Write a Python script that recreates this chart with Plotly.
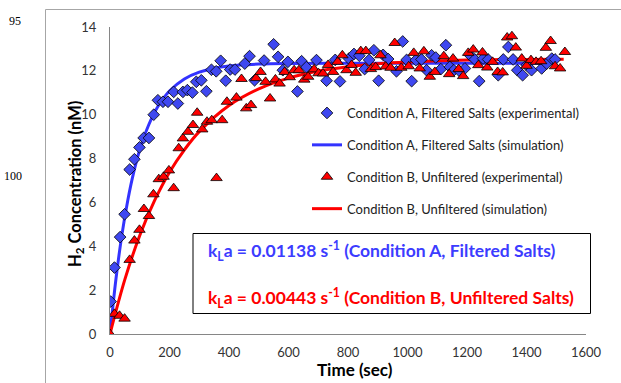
import plotly.graph_objects as go

# ---- data ----
a_time = [2, 15, 34, 49, 66, 82, 99, 113, 131, 147, 161, 178, 195, 214, 228, 245, 260, 277, 290, 307,
          324, 341, 357, 372, 389, 404, 420, 453, 469, 486, 518, 550, 565, 581, 598, 630, 644, 660, 694,
          728, 757, 773, 803, 820, 838, 856, 871, 887, 903, 918, 935, 963, 984, 997, 1014, 1028, 1047,
          1064, 1081, 1095, 1112, 1129, 1142, 1156, 1174, 1193, 1210, 1226, 1241, 1254, 1271, 1305,
          1322, 1339, 1355, 1369, 1387, 1400, 1417, 1451, 1468, 1485, 1496]
a_conc = [1.48, 3.03, 4.42, 5.46, 7.50, 7.97, 8.51, 8.94, 8.94, 10.0, 10.66, 10.59, 10.59, 11.04, 10.51,
          11.04, 11.12, 11.01, 11.5, 11.57, 11.07, 12.05, 11.98, 12.46, 11.55, 12.06, 12.06, 12.33, 12.67,
          11.57, 12.47, 13.21, 12.64, 12.03, 12.41, 11.06, 12.44, 12.17, 12.49, 11.55, 12.50, 11.52, 12.56,
          12.77, 12.69, 12.08, 12.50, 12.94, 11.55, 12.73, 12.54, 11.98, 13.34, 12.5, 11.53, 12.49, 12.52,
          12.03, 12.71, 12.61, 12.08, 13.17, 12.18, 12.03, 12.0, 12.11, 12.71, 12.52, 11.53, 12.56, 12.52,
          11.8, 12.52, 13.09, 12.52, 12.03, 11.8, 12.26, 12.03, 12.11, 12.33, 12.56, 12.52]

b_time = [0, 15, 32, 49, 66, 82, 99, 114, 131, 146, 164, 180, 198, 214, 231, 245, 262, 279, 293, 310,
          326, 342, 358, 377, 393, 425, 442, 458, 474, 491, 506, 523, 538, 556, 570, 587, 604, 619, 635,
          653, 666, 686, 701, 716, 733, 750, 765, 781, 795, 812, 826, 843, 860, 877, 893, 909, 927, 943,
          957, 979, 1004, 1021, 1041, 1055, 1075, 1092, 1122, 1140, 1153, 1172, 1187, 1204, 1221, 1238,
          1252, 1268, 1286, 1303, 1320, 1335, 1351, 1364, 1384, 1400, 1415, 1432, 1449, 1465, 1481,
          1496, 1513, 1529]
b_conc = [0.0, 0.92, 0.83, 0.70, 3.38, 4.26, 4.75, 5.70, 5.38, 6.37, 7.06, 7.17, 7.46, 6.65, 8.47, 8.92,
          9.22, 9.53, 10.09, 9.33, 9.68, 9.75, 7.11, 9.75, 10.59, 10.78, 11.63, 10.29, 10.44, 11.67, 11.95,
          11.50, 10.74, 11.61, 11.42, 11.95, 11.71, 12.03, 12.03, 11.60, 11.73, 12.07, 11.89, 11.88, 12.27,
          11.95, 12.41, 12.71, 12.03, 12.27, 11.91, 12.90, 12.90, 12.08, 12.17, 12.71, 12.20, 12.14, 13.27,
          12.14, 12.21, 12.82, 12.11, 12.89, 11.73, 11.95, 12.67, 11.85, 12.56, 12.08, 11.76, 12.82, 12.97,
          12.26, 12.84, 12.15, 12.41, 11.95, 11.93, 13.52, 13.58, 13.06, 12.56, 12.23, 12.49, 12.41, 12.44,
          13.05, 13.36, 12.21, 12.11, 12.86]

a_sim_time = [0, 20, 40, 60, 80, 100, 130, 160, 200, 250, 300, 350, 400, 500, 600, 800, 1000, 1200, 1500]
a_sim_conc = [0, 2.51, 4.52, 6.11, 7.39, 8.40, 9.53, 10.35, 11.08, 11.63, 11.94, 12.12, 12.22, 12.31,
              12.34, 12.35, 12.35, 12.35, 12.35]

b_sim_time = [0, 50, 100, 150, 200, 250, 300, 400, 500, 600, 700, 800, 900, 1000, 1200, 1400, 1525]
b_sim_conc = [0, 2.49, 4.49, 6.09, 7.38, 8.40, 9.23, 10.42, 11.18, 11.67, 11.99, 12.19, 12.32, 12.40,
              12.49, 12.52, 12.53]

x_ticks = [0, 200, 400, 600, 800, 1000, 1200, 1400, 1600]
y_ticks = [0, 2, 4, 6, 8, 10, 12, 14]

names = ["Condition A, Filtered Salts (experimental)",
         "Condition A, Filtered Salts (simulation)",
         "Condition B, Unfiltered (experimental)",
         "Condition B, Unfiltered (simulation)"]

BLUE_M = "#3f48f0"
BLUE_L = "#3333ff"
RED = "#ff0000"
FONT = "Lato"

fig = go.Figure()
fig.add_trace(go.Scatter(x=a_sim_time, y=a_sim_conc, mode="lines", name=names[1], legendgroup="2",
                         legendrank=2, line=dict(color=BLUE_L, width=3, shape="spline")))
fig.add_trace(go.Scatter(x=b_sim_time, y=b_sim_conc, mode="lines", name=names[3], legendgroup="4",
                         legendrank=4, line=dict(color=RED, width=3, shape="spline")))
fig.add_trace(go.Scatter(x=a_time, y=a_conc, mode="markers", name=names[0], legendgroup="1", legendrank=1,
                         marker=dict(symbol="diamond", size=9, color=BLUE_M,
                                     line=dict(color="#000000", width=0.8))))
fig.add_trace(go.Scatter(x=b_time, y=b_conc, mode="markers", name=names[2], legendgroup="3", legendrank=3,
                         marker=dict(symbol="triangle-up", size=10, color=RED,
                                     line=dict(color="#000000", width=0.8))))

# page pixel -> paper coordinates (plot area spans page x 110..586, y 27..334)
def px_x(p):
    return (p - 110) / 476.0

def px_y(p):
    return (334 - p) / 307.0

shapes = [
    # outer grey frame: top and left edges (right and bottom fall outside the page)
    dict(type="line", xref="paper", yref="paper", x0=px_x(45.5), x1=px_x(621), y0=px_y(9.5), y1=px_y(9.5),
         line=dict(color="#a6a6a6", width=1), layer="above"),
    dict(type="line", xref="paper", yref="paper", x0=px_x(45.5), x1=px_x(45.5), y0=px_y(9.5), y1=px_y(383),
         line=dict(color="#a6a6a6", width=1), layer="above"),
    dict(type="rect", xref="paper", yref="paper", x0=px_x(193), x1=px_x(590.5), y0=px_y(313.5),
         y1=px_y(233.5), line=dict(color="#000000", width=1), fillcolor="white", layer="above"),
]

annotations = [
    dict(xref="paper", yref="paper", x=px_x(15), y=px_y(21), text="95", showarrow=False,
         font=dict(family="Liberation Serif", size=12, color="#000"), xanchor="center", yanchor="middle"),
    dict(xref="paper", yref="paper", x=px_x(13), y=px_y(176), text="100", showarrow=False,
         font=dict(family="Liberation Serif", size=12, color="#000"), xanchor="center", yanchor="middle"),
    dict(xref="paper", yref="paper", x=px_x(206), y=px_y(251), xanchor="left", yanchor="middle",
         text="<b>k<sub>L</sub>a = 0.01138 s<sup>-1</sup> (Condition A, Filtered Salts)</b>", showarrow=False,
         font=dict(family=FONT, size=17.5, color="#3c3cff")),
    dict(xref="paper", yref="paper", x=px_x(206), y=px_y(298), xanchor="left", yanchor="middle",
         text="<b>k<sub>L</sub>a = 0.00443 s<sup>-1</sup> (Condition B, Unfiltered Salts)</b>", showarrow=False,
         font=dict(family=FONT, size=17.5, color=RED)),
    # axis titles
    dict(xref="paper", yref="paper", x=px_x(355), y=px_y(369), xanchor="center", yanchor="middle",
         text="<b>Time (sec)</b>", showarrow=False, font=dict(family=FONT, size=17, color="#000")),
    dict(xref="paper", yref="paper", x=px_x(75), y=px_y(184), xanchor="center", yanchor="middle",
         textangle=-90, text="<b>H<sub>2</sub> Concentration (nM)</b>", showarrow=False,
         font=dict(family=FONT, size=16.5, color="#000")),
]

fig.update_layout(
    width=621, height=383,
    margin=dict(l=110, r=35, t=27, b=49, autoexpand=False),
    paper_bgcolor="white", plot_bgcolor="white",
    font=dict(family=FONT, size=13, color="#333333"),
    showlegend=True,
    legend=dict(x=px_x(307), y=px_y(98), xanchor="left", yanchor="top", bgcolor="rgba(0,0,0,0)",
                tracegroupgap=12, font=dict(family=FONT, size=13, color="#222")),
    shapes=shapes, annotations=annotations,
    xaxis=dict(range=[0, 1600], tickvals=x_ticks, showgrid=False, zeroline=False, showline=True,
               linecolor="#868686", linewidth=1, ticks="", ticklabelstandoff=6, automargin=False),
    yaxis=dict(range=[0, 14], tickvals=y_ticks, showgrid=False, zeroline=False, showline=True,
               linecolor="#868686", linewidth=1, ticks="", ticklabelstandoff=10, automargin=False),
)

# remove the browser's default 8px body margin so the figure sits at the page's top-left corner
fig.write_html("out.html", config={"displayModeBar": False},
               post_script="document.body.style.margin='0px';")
